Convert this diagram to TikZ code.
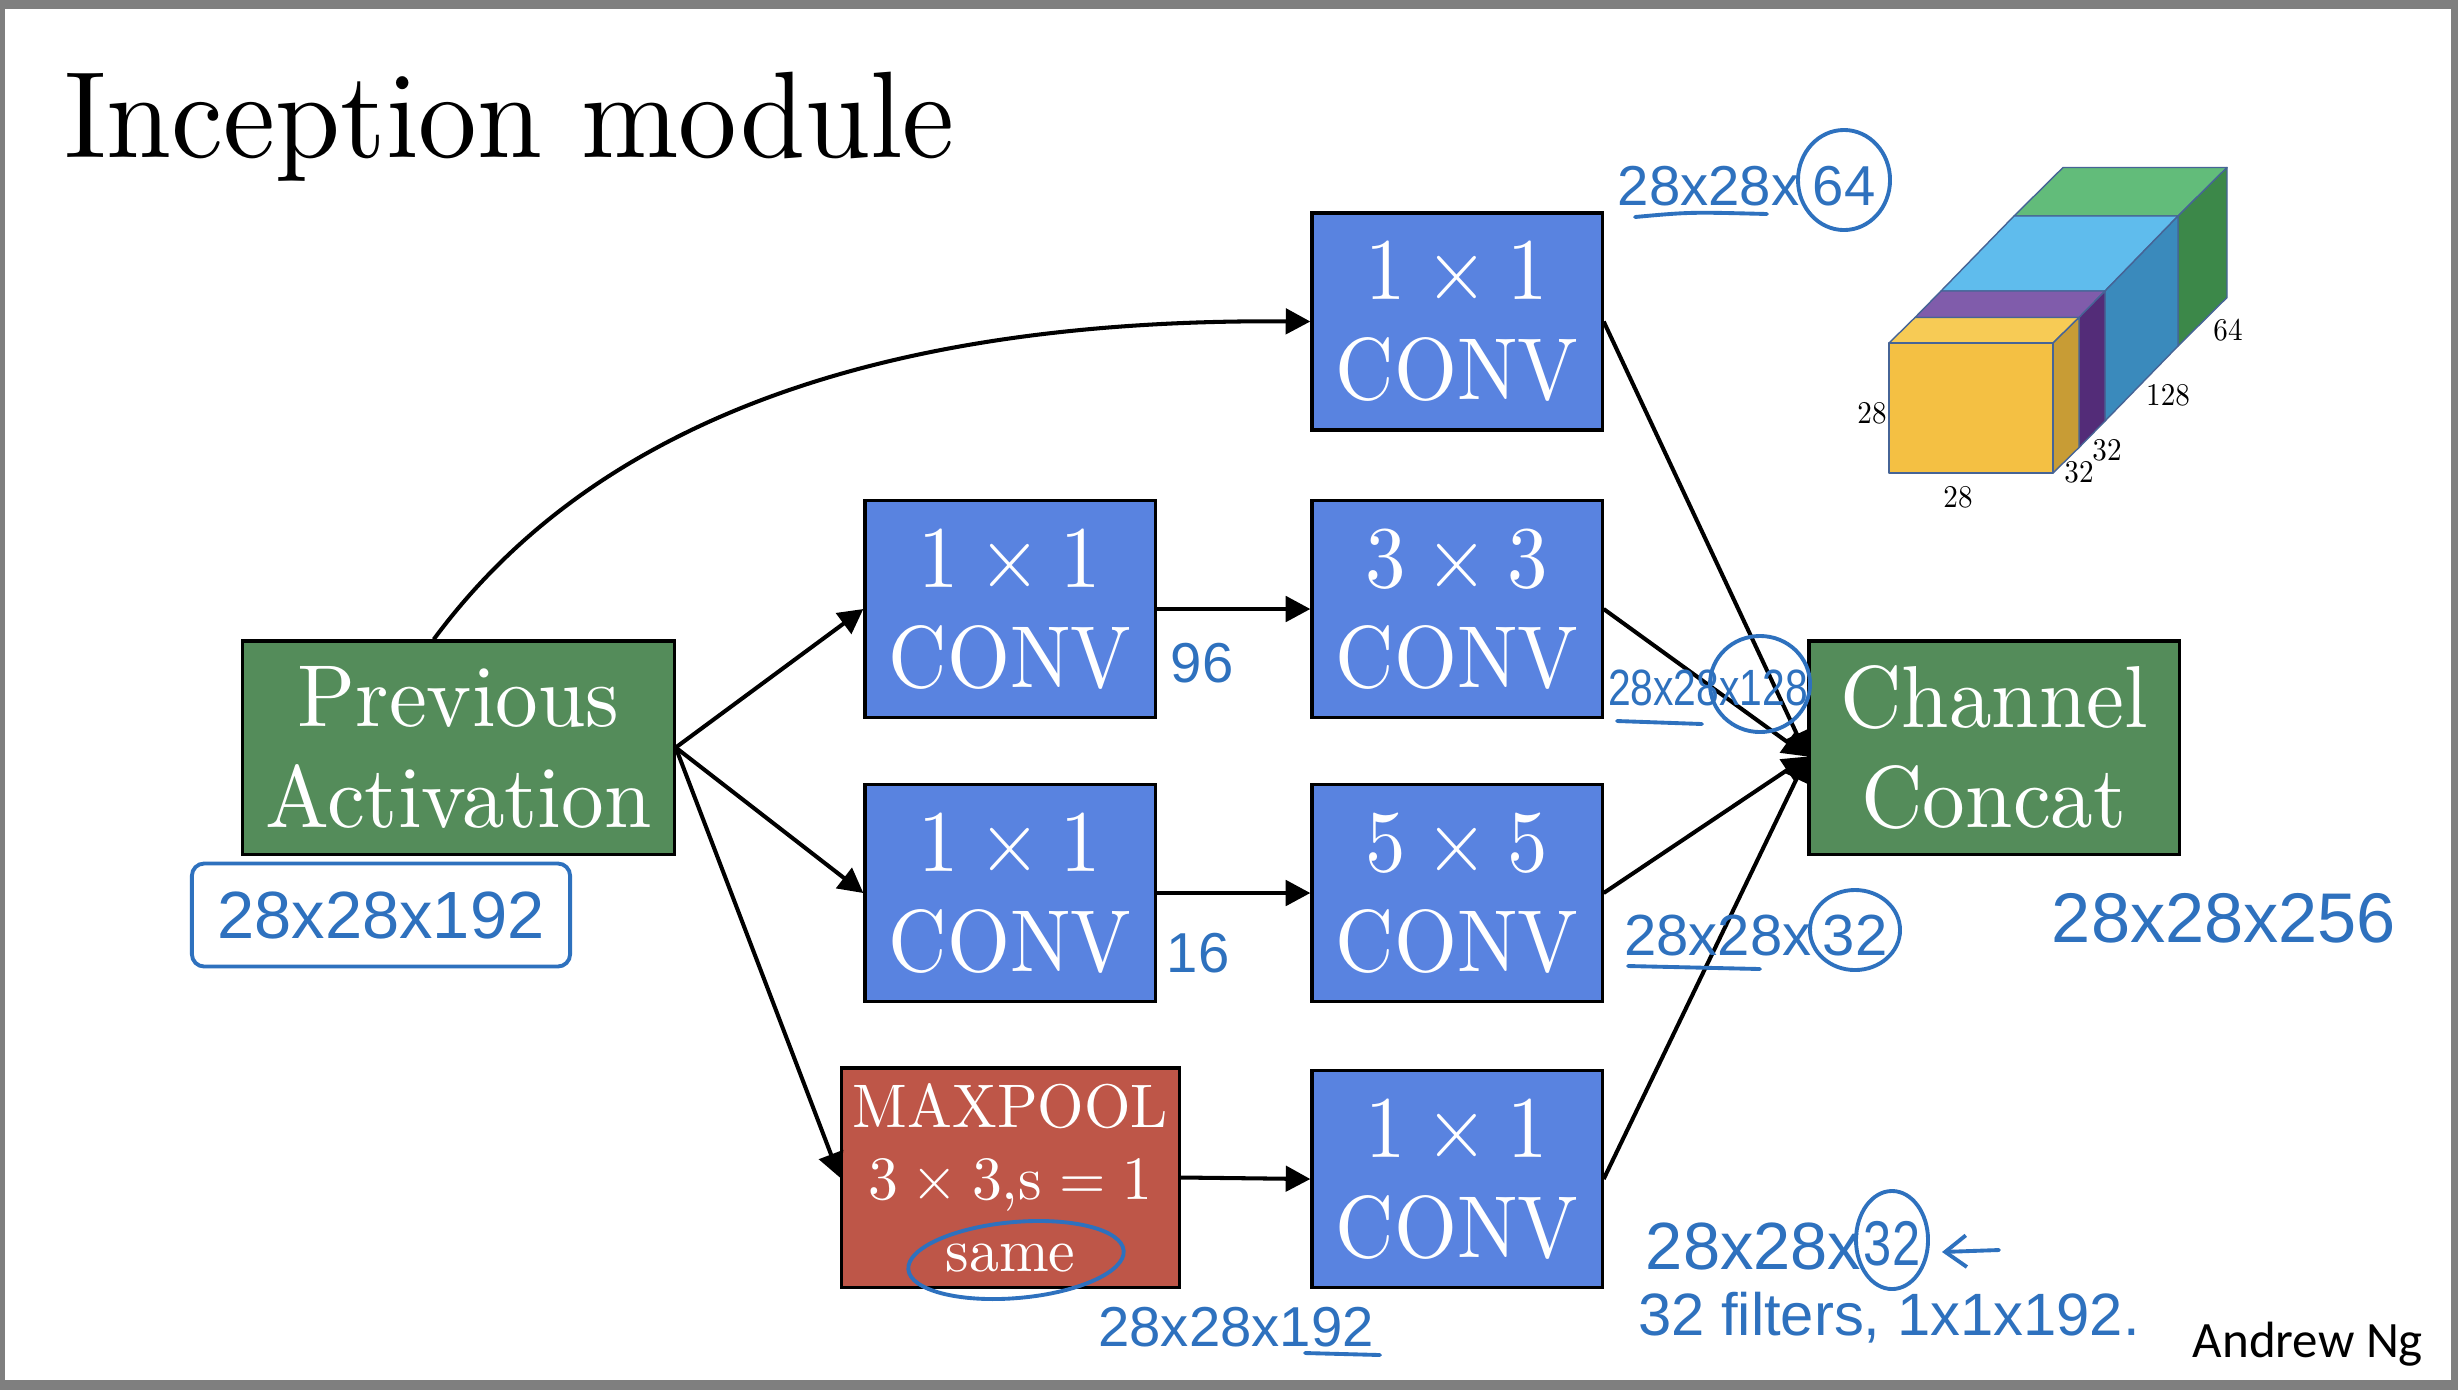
\RequirePackage{fix-cm}
\documentclass[tikz,border=0pt]{standalone}
\usepackage{fontspec}
\usetikzlibrary{arrows.meta,calc,shapes.geometric}
\newfontfamily\handfont{Liberation Sans}
\newfontfamily\handnarrow{Liberation Sans}[FakeStretch=0.8]
\newfontfamily\ngfont{Carlito}
\newfontfamily\boxfont{lmroman10-regular.otf}[FakeStretch=0.92]
\newfontfamily\bigboxfont{lmroman10-regular.otf}[FakeStretch=0.97]
\newfontfamily\titlefont{lmroman10-regular.otf}[FakeStretch=0.95]
\newcommand\tms{\hspace{0.222em}×\hspace{0.222em}}
\newcommand\eqsp{\hspace{0.278em}=\hspace{0.278em}}
\definecolor{boxblue}{RGB}{89,131,224}
\definecolor{boxgreen}{RGB}{84,140,90}
\definecolor{boxred}{RGB}{190,86,72}
\definecolor{handblue}{RGB}{46,113,190}
\definecolor{framegray}{RGB}{127,127,127}
\definecolor{cubeline}{RGB}{70,100,150}
\definecolor{yfront}{RGB}{244,192,67}
\definecolor{ytop}{RGB}{247,203,85}
\definecolor{yside}{RGB}{200,156,53}
\definecolor{ptop}{RGB}{128,92,171}
\definecolor{pside}{RGB}{83,44,120}
\definecolor{btop}{RGB}{95,188,237}
\definecolor{bside}{RGB}{58,138,188}
\definecolor{gtop}{RGB}{98,188,122}
\definecolor{gside}{RGB}{60,136,73}
\tikzset{
  blk/.style={draw=black, line width=0.9pt, inner sep=0pt, align=center, text=white},
  convbox/.style={blk, fill=boxblue, minimum width=2.9cm, minimum height=2.17cm, font=\boxfont\fontsize{25}{28.5}\selectfont},
  greenbox/.style={blk, fill=boxgreen, minimum height=2.13cm, font=\bigboxfont\fontsize{25}{28.5}\selectfont},
  poolbox/.style={blk, fill=boxred, minimum width=3.38cm, minimum height=2.19cm, font=\bigboxfont\fontsize{17.5}{20.5}\selectfont},
  arr/.style={line width=1.15pt, -{Triangle[length=7pt,width=7.2pt]}},
  hand/.style={text=handblue, inner sep=0pt},
  handline/.style={draw=handblue, line width=1.1pt, line cap=round, line join=round},
  cubeedge/.style={draw=cubeline, line width=0.4pt, line join=round},
  dimlabel/.style={font=\boxfont\fontsize{9}{10}\selectfont, inner sep=0pt},
}
\begin{document}
\begin{tikzpicture}[x=0.01cm, y=-0.01cm]
\useasboundingbox (0,0) rectangle (2458,1390);
\fill[framegray] (0,0) rectangle (2458,1390);
\fill[white] (5,9) rectangle (2451,1380);

% title
\node[anchor=base west, inner sep=0pt, font=\titlefont\fontsize{35}{40}\selectfont] (title) at (64,157) {Inception module};

% boxes
\node[greenbox, minimum width=4.31cm] (prev) at (458.5,747.5) {Previous\\Activation};
\node[greenbox, minimum width=3.70cm] (concat) at (1994,747.5) {Channel\\Concat};
\node[convbox] (c1top) at (1457,321.5) {1\tms 1\\CONV};
\node[convbox] (c1a) at (1010,609) {1\tms 1\\CONV};
\node[convbox] (c3) at (1457,609) {3\tms 3\\CONV};
\node[convbox] (c1b) at (1010,893) {1\tms 1\\CONV};
\node[convbox] (c5) at (1457,893) {5\tms 5\\CONV};
\node[poolbox] (pool) at (1010.5,1177.5) {MAXPOOL\\3\tms 3,s\eqsp 1\\same};
\node[convbox] (c1c) at (1457,1179) {1\tms 1\\CONV};

% connectors
\draw[arr] ($(prev.north west)!0.443!(prev.north east)$) .. controls (570,455) and (820,318) .. (c1top.west);
\draw[arr] (prev.east) -- (c1a.west);
\draw[arr] (prev.east) -- (c1b.west);
\draw[arr] (prev.east) -- (pool.west);
\draw[arr] (c1a.east) -- (c3.west);
\draw[arr] (c1b.east) -- (c5.west);
\draw[arr] (pool.east) -- (c1c.west);
\coordinate (cc) at ($(concat.west)+(0,9)$);
\draw[arr] (c1top.east) -- (cc);
\draw[arr] (c3.east) -- (cc);
\draw[arr] (c5.east) -- (cc);
\draw[arr] (c1c.east) -- (cc);

% 3D volume
\filldraw[cubeedge, fill=gtop] (2014,216) -- (2178,216) -- (2227,167.5) -- (2063,167.5) -- cycle;
\filldraw[cubeedge, fill=gside] (2178,216) -- (2178,346) -- (2227,297.5) -- (2227,167.5) -- cycle;
\filldraw[cubeedge, fill=btop] (1941,291) -- (2105,291) -- (2178,216) -- (2014,216) -- cycle;
\filldraw[cubeedge, fill=bside] (2105,291) -- (2105,421) -- (2178,346) -- (2178,216) -- cycle;
\filldraw[cubeedge, fill=ptop] (1915,317.5) -- (2079,317.5) -- (2105,291) -- (1941,291) -- cycle;
\filldraw[cubeedge, fill=pside] (2079,317.5) -- (2079,447.5) -- (2105,421) -- (2105,291) -- cycle;
\filldraw[cubeedge, fill=ytop] (1889,343) -- (2053,343) -- (2079,317.5) -- (1915,317.5) -- cycle;
\filldraw[cubeedge, fill=yside] (2053,343) -- (2053,473) -- (2079,447.5) -- (2079,317.5) -- cycle;
\filldraw[cubeedge, fill=yfront] (1889,343) rectangle (2053,473);
\node[dimlabel] (d28a) at (1872,413) {28};
\node[dimlabel] (d28b) at (1958,497) {28};
\node[dimlabel] (d32a) at (2079,472) {32};
\node[dimlabel] (d32b) at (2107,450) {32};
\node[dimlabel] (d128) at (2168,395) {128};
\node[dimlabel] (d64) at (2228,330) {64};

% handwritten annotations
\node[hand, draw=handblue, line width=1.1pt, rounded corners=3.5pt, minimum width=3.78cm, minimum height=1.03cm, font=\handfont\fontsize{19}{22}\selectfont] (h192) at (381,915) {28x28x192};

\node[hand, anchor=east, font=\handfont\fontsize{16}{19}\selectfont] (h64a) at (1800,186) {28x28x};
\node[hand, font=\handfont\fontsize{16}{19}\selectfont] (h64b) at (1844,186) {64};
\draw[handline] (1844,180) ellipse [x radius=0.46cm, y radius=0.50cm];
\draw[handline] (1635,217) .. controls (1690,212) .. (1767,214);

\node[hand, font=\handfont\fontsize{16}{19}\selectfont] (h96) at (1202,663) {96};
\node[hand, font=\handfont\fontsize{16}{19}\selectfont] (h16) at (1198,953) {16};

\node[hand, font=\handnarrow\fontsize{14.5}{17}\selectfont] (h128) at (1708,688) {28x28x128};
\draw[handline] (1760,684) ellipse [x radius=0.50cm, y radius=0.48cm];
\draw[handline] (1617,721) -- (1702,724);

\node[hand, anchor=east, font=\handfont\fontsize{16.5}{19}\selectfont] (h32a) at (1812,936) {28x28x};
\node[hand, font=\handfont\fontsize{16.5}{19}\selectfont] (h32b) at (1855,936) {32};
\draw[handline] (1855,930) ellipse [x radius=0.45cm, y radius=0.40cm];
\draw[handline] (1628,966) -- (1760,969);

\node[hand, font=\handfont\fontsize{20}{23}\selectfont] (h256) at (2224,918) {28x28x256};

\node[hand, font=\handfont\fontsize{16}{19}\selectfont] (h192b) at (1236,1327) {28x28x192};
\draw[handline] (1305,1353) -- (1380,1355);

\draw[handline, rotate around={5:(1016,1260)}] (1016,1260) ellipse [x radius=1.08cm, y radius=0.38cm];

\node[hand, anchor=east, font=\handfont\fontsize{19}{22}\selectfont] (h32c) at (1862,1246) {28x28x};
\node[hand, font=\handnarrow\fontsize{18}{21}\selectfont] (h32d) at (1892,1244) {32};
\draw[handline] (1892,1240) ellipse [x radius=0.36cm, y radius=0.49cm];
\coordinate (arrS) at (1999,1250);
\coordinate (arrE) at (1942,1252);
\draw[handline, -{Straight Barb[length=6pt,width=9pt]}] (arrS) -- (arrE);
\node[hand, font=\handfont\fontsize{17}{20}\selectfont] (hfil) at (1889,1318) {32 filters, 1x1x192.};

\node[anchor=base west, inner sep=0pt, font=\ngfont\fontsize{14.5}{18}\selectfont] (ng) at (2192,1357) {Andrew Ng};
\end{tikzpicture}
\end{document}
